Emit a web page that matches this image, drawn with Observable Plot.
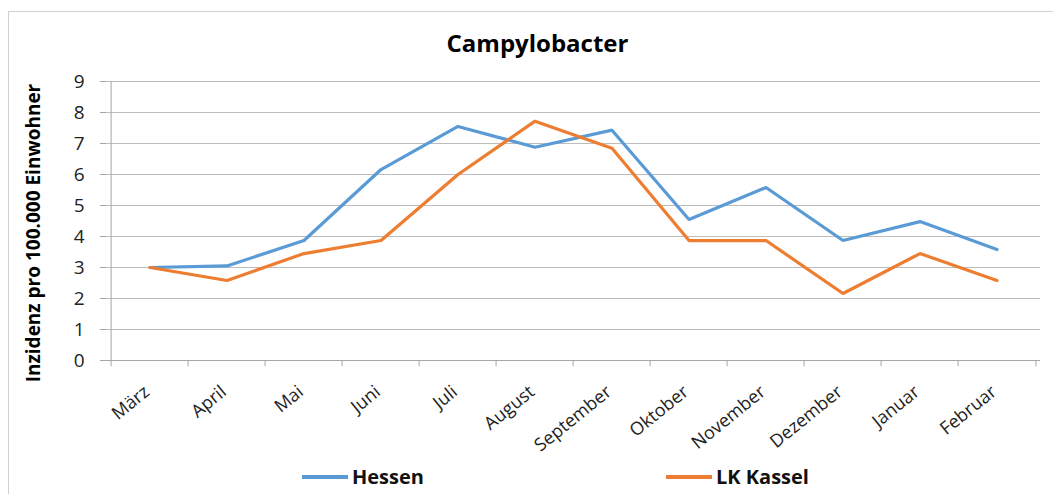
<!DOCTYPE html>
<html>
<head>
<meta charset="utf-8">
<script src="https://cdn.jsdelivr.net/npm/d3@7"></script>
<script src="https://cdn.jsdelivr.net/npm/@observablehq/plot@0.6"></script>
<style>
  html, body { margin: 0; padding: 0; background: #fff; }
  #wrap { position: relative; width: 1053px; height: 494px; overflow: hidden; font-family: "Open Sans", sans-serif; }
  #frame { position: absolute; left: 8px; top: 11px; width: 1060px; height: 500px; border: 1px solid #d0d0d0; box-sizing: border-box; }
  #title { position: absolute; left: 0; width: 1075px; top: 26px; text-align: center; font-size: 24px; font-weight: bold; color: #000; }
  #legend { position: absolute; top: 463px; left: 0; width: 1053px; height: 28px; font-size: 20px; font-weight: bold; color: #111; }
  .item { position: absolute; display: flex; align-items: center; }
  .sw { width: 46px; height: 4px; margin-right: 4px; }
  #chart { position: absolute; left: 0; top: 0; }
</style>
</head>
<body>
<div id="wrap">
  <div id="frame"></div>
  <div id="chart"></div>
  <div id="title">Campylobacter</div>
  <div id="legend"></div>
</div>
<script>
const months = ["März","April","Mai","Juni","Juli","August","September","Oktober","November","Dezember","Januar","Februar"];
const hessen = [3.0, 3.05, 3.87, 6.16, 7.55, 6.88, 7.43, 4.55, 5.58, 3.87, 4.48, 3.58];
const kassel = [3.0, 2.58, 3.45, 3.87, 6.0, 7.72, 6.85, 3.87, 3.87, 2.16, 3.45, 2.58];
const seriesNames = ["Hessen", "LK Kassel"];
const seriesColors = ["#5b9bd5", "#ed7d31"];
const yTicks = [0,1,2,3,4,5,6,7,8,9];
const yLabel = "Inzidenz pro 100.000 Einwohner";

const data = [];
months.forEach((m, i) => {
  data.push({month: m, value: hessen[i], series: seriesNames[0]});
  data.push({month: m, value: kassel[i], series: seriesNames[1]});
});

const W = 1053, mL = 106, mR = 13;
const bw = (W - mL - mR) / months.length;

const chart = Plot.plot({
  width: W,
  height: 494,
  marginLeft: mL,
  marginRight: mR,
  marginTop: 81,
  marginBottom: 134,
  style: {background: "transparent", fontFamily: "'Open Sans', sans-serif", overflow: "visible"},
  x: {type: "band", domain: months, padding: 0, align: 0.5, axis: null},
  y: {domain: [0, 9], axis: null},
  color: {domain: seriesNames, range: seriesColors},
  marks: [
    Plot.gridY(yTicks, {stroke: "#bdbdbd", strokeOpacity: 1, strokeWidth: 1}),
    Plot.axisY({ticks: yTicks, tickSize: 6, tickFormat: () => "", label: null, stroke: "#a6a6a6", strokeOpacity: 1}),
    Plot.text(yTicks, {y: d => d, frameAnchor: "left", dx: -22, textAnchor: "end", fontSize: 19, fill: "#222", text: d => String(d)}),
    Plot.ruleX([months[0]], {x: d => d, dx: -bw / 2, y1: 0, y2: 9, stroke: "#a6a6a6"}),
    Plot.ruleY([0], {stroke: "#a6a6a6"}),
    Plot.ruleX(months, {x: d => d, dx: -bw / 2, y1: 0, y2: -0.2, stroke: "#a6a6a6"}),
    Plot.ruleX([months[months.length - 1]], {x: d => d, dx: bw / 2, y1: 0, y2: -0.2, stroke: "#a6a6a6"}),
    Plot.line(data, {x: "month", y: "value", stroke: "series", strokeWidth: 3.2, strokeLinejoin: "miter"}),
    Plot.text(months, {x: d => d, y: 0, rotate: -39, textAnchor: "end", dx: -3, dy: 29, fontSize: 18, fill: "#222", text: d => d}),
    Plot.text([yLabel], {frameAnchor: "left", textAnchor: "middle", dx: -73, dy: 12, rotate: -90, fontSize: 19, fontWeight: "bold", fill: "#000", text: d => d})
  ]
});
document.getElementById("chart").appendChild(chart);

const legend = document.getElementById("legend");
const legendPos = [302, 666];
seriesNames.forEach((n, i) => {
  const it = document.createElement("div");
  it.className = "item";
  it.style.left = legendPos[i] + "px";
  it.innerHTML = `<div class="sw" style="background:${seriesColors[i]}"></div><span>${n}</span>`;
  legend.appendChild(it);
});
</script>
</body>
</html>
